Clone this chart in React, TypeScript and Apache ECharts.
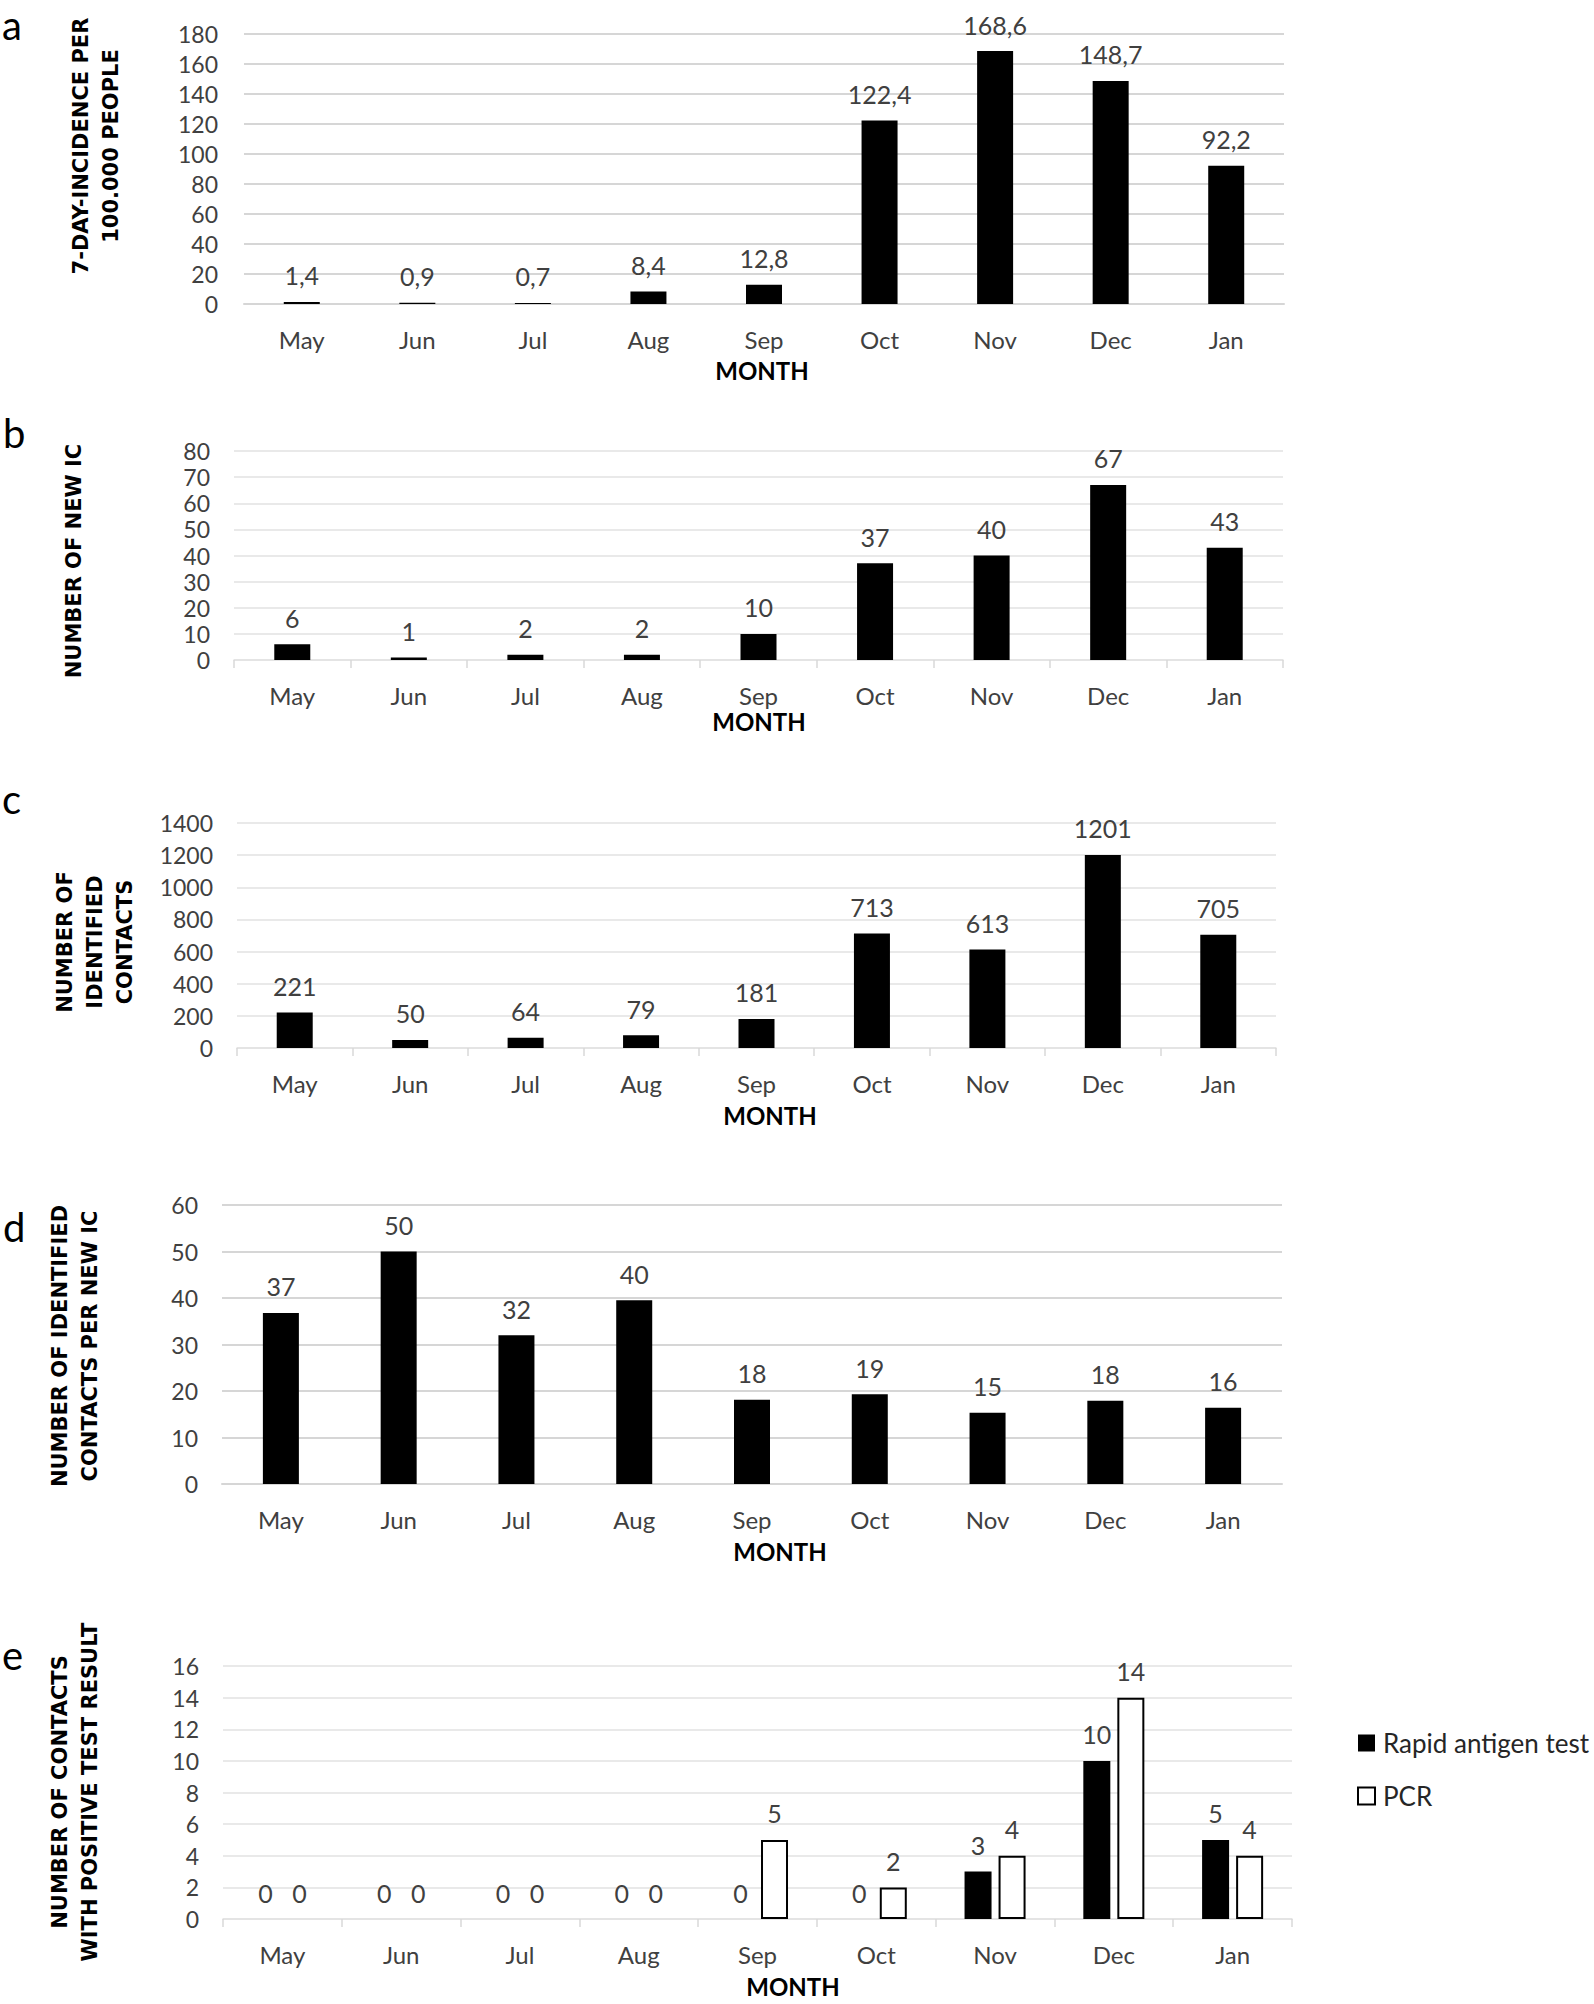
import React, { useEffect, useRef } from 'react';
import * as echarts from 'echarts';

// ---- data ----
const months = ['May', 'Jun', 'Jul', 'Aug', 'Sep', 'Oct', 'Nov', 'Dec', 'Jan'];
const incidence = [1.4, 0.9, 0.7, 8.4, 12.8, 122.4, 168.6, 148.7, 92.2];
const newIC = [6, 1, 2, 2, 10, 37, 40, 67, 43];
const identifiedContacts = [221, 50, 64, 79, 181, 713, 613, 1201, 705];
const contactsPerNewIC = [36.8, 50, 32, 39.5, 18.1, 19.3, 15.3, 17.9, 16.4];
const rapidAntigen = [0, 0, 0, 0, 0, 0, 3, 10, 5];
const pcr = [0, 0, 0, 0, 5, 2, 4, 14, 4];

const panelLetters = ['a', 'b', 'c', 'd', 'e'];
const yTitles = [
  '7-DAY-INCIDENCE PER\n100.000 PEOPLE',
  'NUMBER OF NEW IC',
  'NUMBER OF\nIDENTIFIED\nCONTACTS',
  'NUMBER OF IDENTIFIED\nCONTACTS PER NEW IC',
  'NUMBER OF CONTACTS\nWITH POSITIVE TEST RESULT',
];
const yMax = [180, 80, 1400, 60, 16];
const yInterval = [20, 10, 200, 10, 2];
const xTitle = 'MONTH';
const legendNames = ['Rapid antigen test', 'PCR'];

// ---- layout ----
const FONT = 'Lato, "Open Sans", sans-serif';
const TITLE_FONT = '"DejaVu Sans", "Liberation Sans", sans-serif';
const grids = [
  { left: 244, top: 34, width: 1040, height: 270 },
  { left: 234, top: 451, width: 1049, height: 209 },
  { left: 237, top: 823, width: 1039, height: 225 },
  { left: 222, top: 1205, width: 1060, height: 279 },
  { left: 223, top: 1666, width: 1069, height: 253 },
];
const showTicks = [false, true, true, false, true];
const gridStyle = [
  { color: '#d6d6d6', width: 2 },
  { color: '#e2e2e2', width: 1.5 },
  { color: '#e2e2e2', width: 1.5 },
  { color: '#d6d6d6', width: 2 },
  { color: '#e2e2e2', width: 1.5 },
];
const letterPos = [[2, 25], [3, 432.5], [2, 798.5], [3, 1226.5], [2, 1654.5]];
const titlePos = [[96, 146], [74, 561], [95, 942], [75, 1346], [75, 1792]];
const monthPos = [[762, 370], [759, 721], [770, 1115], [780, 1551], [793, 1986]];

const labelBase = {
  show: true,
  position: 'top',
  distance: 14,
  color: '#404040',
  fontSize: 25,
  fontFamily: FONT,
};

export default function App() {
  const ref = useRef<HTMLDivElement>(null);

  useEffect(() => {
    if (!ref.current) return;
    const chart = echarts.init(ref.current, undefined, { renderer: 'svg' });

    const xAxes = grids.map((_, i) => ({
      type: 'category',
      gridIndex: i,
      data: months,
      axisLine: { show: true, lineStyle: { color: gridStyle[i].color, width: gridStyle[i].width } },
      axisTick: { show: showTicks[i], length: 8, lineStyle: { color: '#d9d9d9', width: 1.5 } },
      axisLabel: { interval: 0, margin: 23, fontSize: 24, fontFamily: FONT, color: '#404040' },
    }));
    const yAxes = grids.map((_, i) => ({
      type: 'value',
      gridIndex: i,
      min: 0,
      max: yMax[i],
      interval: yInterval[i],
      axisLine: { show: false },
      axisTick: { show: false },
      splitLine: { show: true, lineStyle: gridStyle[i] },
      axisLabel: {
        margin: i === 0 ? 26 : 24,
        fontSize: 23,
        fontFamily: FONT,
        color: '#404040',
        formatter: (v: number) => String(v),
      },
    }));

    const graphics: any[] = [];
    panelLetters.forEach((l, i) => {
      graphics.push({
        type: 'text',
        x: letterPos[i][0],
        y: letterPos[i][1],
        style: {
          text: l,
          fontSize: 40,
          fontFamily: FONT,
          fill: '#000',
          align: 'left',
          verticalAlign: 'middle',
        },
      });
      graphics.push({
        type: 'text',
        x: titlePos[i][0],
        y: titlePos[i][1],
        rotation: Math.PI / 2,
        style: {
          text: yTitles[i],
          fontSize: 21,
          fontWeight: 'bold',
          fontFamily: TITLE_FONT,
          fill: '#000',
          align: 'center',
          verticalAlign: 'middle',
          lineHeight: 30,
        },
      });
      graphics.push({
        type: 'text',
        x: monthPos[i][0],
        y: monthPos[i][1],
        style: {
          text: xTitle,
          fontSize: 24,
          fontWeight: 'bold',
          fontFamily: FONT,
          fill: '#000',
          align: 'center',
          verticalAlign: 'middle',
        },
      });
    });

    const option: any = {
      animation: false,
      backgroundColor: '#fff',
      grid: grids.map((g) => ({ ...g, containLabel: false })),
      xAxis: xAxes,
      yAxis: yAxes,
      legend: {
        data: legendNames,
        orient: 'vertical',
        left: 1357,
        top: 1728,
        padding: 0,
        itemWidth: 17,
        itemHeight: 17,
        itemGap: 23,
        icon: 'rect',
        textStyle: { fontSize: 26, fontFamily: FONT, color: '#262626', lineHeight: 30, padding: [0, 0, 0, 3] },
      },
      graphic: graphics,
      series: [
        {
          type: 'bar',
          xAxisIndex: 0,
          yAxisIndex: 0,
          data: incidence,
          barWidth: 36,
          itemStyle: { color: '#000' },
          label: { ...labelBase, formatter: (p: any) => String(p.value).replace('.', ',') },
        },
        {
          type: 'bar',
          xAxisIndex: 1,
          yAxisIndex: 1,
          data: newIC,
          barWidth: 36,
          itemStyle: { color: '#000' },
          label: { ...labelBase },
        },
        {
          type: 'bar',
          xAxisIndex: 2,
          yAxisIndex: 2,
          data: identifiedContacts,
          barWidth: 36,
          itemStyle: { color: '#000' },
          label: { ...labelBase },
        },
        {
          type: 'bar',
          xAxisIndex: 3,
          yAxisIndex: 3,
          data: contactsPerNewIC,
          barWidth: 36,
          itemStyle: { color: '#000' },
          label: { ...labelBase, formatter: (p: any) => String(Math.round(p.value)) },
        },
        {
          name: legendNames[0],
          type: 'bar',
          xAxisIndex: 4,
          yAxisIndex: 4,
          data: rapidAntigen,
          barWidth: 27,
          barGap: '26%',
          itemStyle: { color: '#000' },
          label: { ...labelBase },
        },
        {
          name: legendNames[1],
          type: 'bar',
          xAxisIndex: 4,
          yAxisIndex: 4,
          data: pcr.map((v) => ({ value: v, itemStyle: { borderWidth: v === 0 ? 0 : 2 } })),
          barWidth: 27,
          barGap: '26%',
          itemStyle: { color: '#fff', borderColor: '#000', borderWidth: 2 },
          label: { ...labelBase },
        },
      ],
    };

    chart.setOption(option);
    return () => chart.dispose();
  }, []);

  return (
    <div
      ref={ref}
      style={{ position: 'absolute', left: 0, top: 0, width: 1594, height: 2004, background: '#fff' }}
    />
  );
}
